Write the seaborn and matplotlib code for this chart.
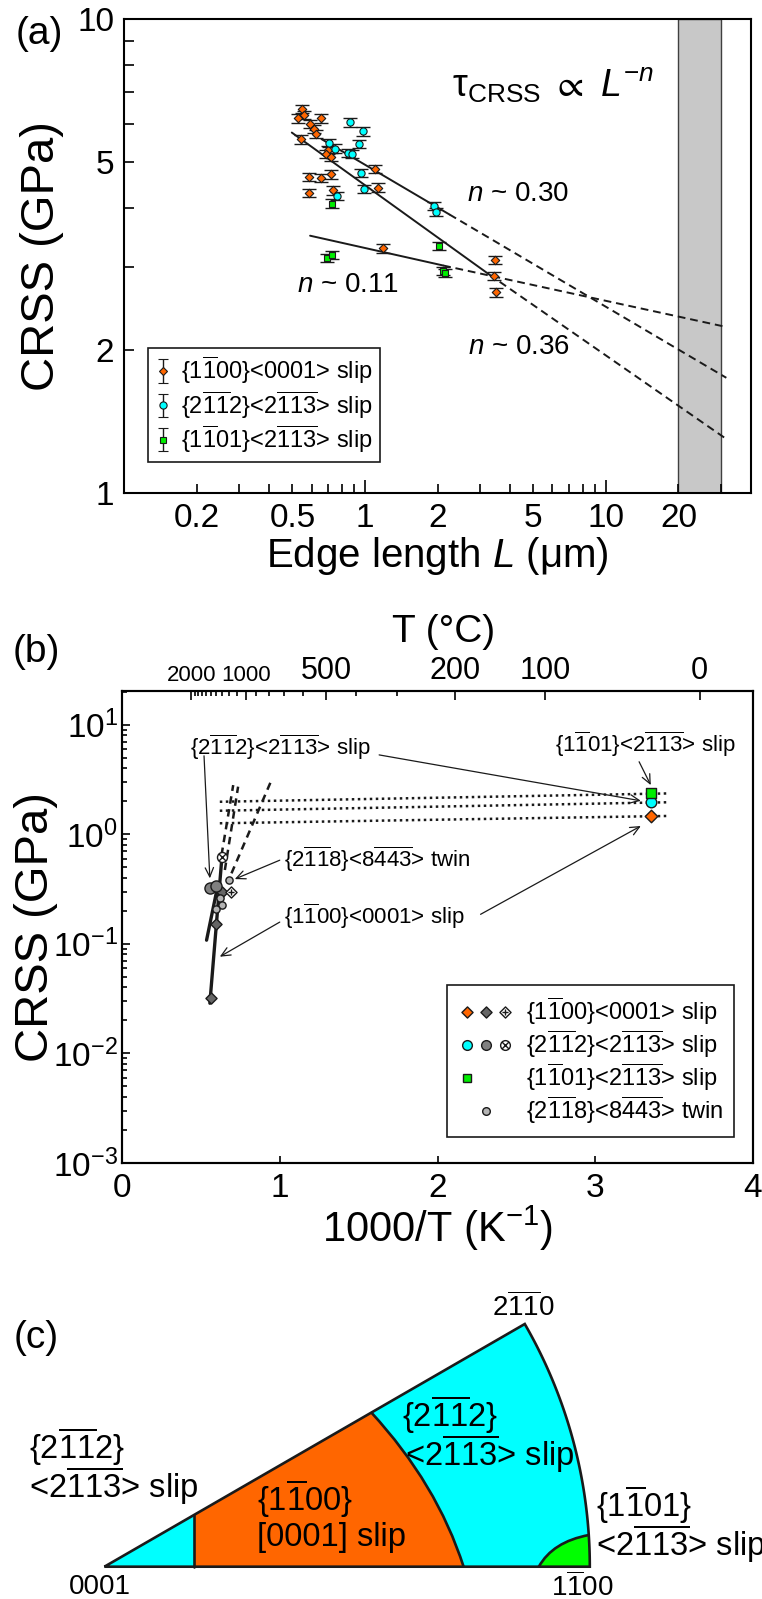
import numpy as np
import pandas as pd
import matplotlib
matplotlib.use('Agg')
import matplotlib.pyplot as plt
import seaborn as sns
from matplotlib import font_manager
from matplotlib.path import Path
from matplotlib.patches import PathPatch
from matplotlib.lines import Line2D
from matplotlib.legend_handler import HandlerTuple
from matplotlib.ticker import NullFormatter

sns.set_theme(style='ticks')
plt.rcParams['font.family'] = ['Liberation Sans', 'DejaVu Sans']
plt.rcParams['mathtext.fontset'] = 'custom'
plt.rcParams['mathtext.rm'] = 'Liberation Sans'
plt.rcParams['mathtext.it'] = 'Liberation Sans:italic'
plt.rcParams['mathtext.bf'] = 'Liberation Sans:bold'
plt.rcParams['mathtext.default'] = 'regular'
plt.rcParams['axes.linewidth'] = 1.5
for k in ['axes.edgecolor', 'xtick.color', 'ytick.color', 'text.color', 'axes.labelcolor']:
    plt.rcParams[k] = 'black'

try:
    font_manager.findfont('Liberation Sans Narrow', fallback_to_default=False)
    NARROW = 'Liberation Sans Narrow'
except Exception:
    NARROW = 'Liberation Sans'

ORANGE = '#ff6600'
CYAN = '#00ffff'
GREEN = '#00ee00'
DGRAY = '#666666'
MGRAY = '#808080'
LGRAY = '#b4b4b4'


def ob(s):
    # overlined digits, one bar per digit
    return '$' + ''.join(r'\overline{%s}' % c for c in s) + '$'


lab_m = '{1' + ob('1') + '00}<0001> slip'
lab_p2 = '{2' + ob('11') + '2}<2' + ob('113') + '> slip'
lab_p1 = '{1' + ob('1') + '01}<2' + ob('113') + '> slip'
lab_tw = '{2' + ob('11') + '8}<8' + ob('443') + '> twin'

# ---------------- (a) CRSS vs edge length ----------------
m_L = [0.549, 0.557, 0.528, 0.654, 0.590, 0.613, 0.626, 0.541, 0.704, 0.688, 0.721, 1.105,
       0.586, 0.654, 0.721, 1.13, 0.586, 0.737, 1.19, 3.47, 3.43, 3.50]
m_tau = [6.46, 6.27, 6.17, 6.17, 6.00, 5.86, 5.72, 5.57, 5.29, 5.19, 5.12, 4.82,
         4.65, 4.62, 4.70, 4.41, 4.30, 4.35, 3.28, 3.10, 2.87, 2.65]
p2_L = [0.863, 0.98, 0.942, 0.710, 0.748, 0.847, 0.881, 0.966, 0.993, 0.762, 1.94, 1.98]
p2_tau = [6.05, 5.79, 5.44, 5.48, 5.33, 5.22, 5.20, 4.73, 4.38, 4.23, 4.03, 3.91]
p1_L = [0.731, 0.697, 0.730, 2.03, 2.11, 2.15]
p1_tau = [4.08, 3.13, 3.18, 3.32, 2.94, 2.91]
err_frac = 0.02

# power-law fits: start, end of solid part, end of dashed extrapolation
fit_n = ['0.30', '0.36', '0.11']
fit_x0 = [0.66, 0.497, 0.592]
fit_y0 = [5.58, 5.76, 3.49]
fit_x1 = [2.24, 3.28, 2.11]
fit_y1 = [3.87, 2.89, 3.02]
fit_x2 = [31.6, 31.6, 31.6]
fit_y2 = [1.75, 1.30, 2.24]
n_text_x = [4.33, 4.37, 0.851]
n_text_y = [4.28, 2.03, 2.75]
band = (20, 30)

df_a = pd.concat([
    pd.DataFrame({'L': m_L, 'tau': m_tau, 'system': 'm'}),
    pd.DataFrame({'L': p2_L, 'tau': p2_tau, 'system': 'p2'}),
    pd.DataFrame({'L': p1_L, 'tau': p1_tau, 'system': 'p1'}),
])

# ---------------- (b) CRSS vs 1000/T ----------------
rt_x = [3.356, 3.356, 3.356]
rt_tau = [1.47, 1.96, 2.37]
ht_m_x = [0.563, 0.599, 0.637]
ht_m_tau = [0.0323, 0.152, 0.295]
ht_p2_x = [0.557, 0.599]
ht_p2_tau = [0.321, 0.337]
hx_m_x = [0.690]
hx_m_tau = [0.297]
hx_p2_x = [0.631]
hx_p2_tau = [0.616]
tw_x = [0.677, 0.620, 0.637, 0.599]
tw_tau = [0.382, 0.261, 0.226, 0.206]

solid_x = [[0.557, 0.631], [0.536, 0.610]]
solid_y = [[0.0287, 0.562], [0.108, 0.356]]
dash_x = [[0.631, 0.705], [0.652, 0.736], [0.694, 0.943]]
dash_y = [[0.647, 2.81], [0.472, 2.72], [0.44, 3.01]]
dot_x = [0.62, 3.468]
dot_y = [[1.98, 2.36], [1.64, 1.96], [1.26, 1.47]]

T_major = [2000, 1000, 500, 200, 100, 0]
T_minor = [1900, 1800, 1700, 1600, 1500, 1400, 1300, 1200, 1100, 900, 800, 700, 600, 400, 300]

# ---------------- figure ----------------
W, H = 762, 1599
fig = plt.figure(figsize=(W / 100, H / 100), dpi=100)


def rect(l, t, r, b):
    return [l / W, 1 - b / H, (r - l) / W, (b - t) / H]


def ftext(x, y, s, **kw):
    fig.text(x / W, 1 - y / H, s, **kw)


axA = fig.add_axes(rect(124, 19, 751, 493))
axB = fig.add_axes(rect(122, 691, 753, 1163))
axC = fig.add_axes(rect(0, 1190, 762, 1599))

# ---- panel (a)
axA.axvspan(*band, facecolor='#c8c8c8', edgecolor='#404040', lw=1.0, zorder=0)
for i in range(3):
    axA.plot([fit_x0[i], fit_x1[i]], [fit_y0[i], fit_y1[i]], color='k', lw=1.4, zorder=2)
    axA.plot([fit_x1[i], fit_x2[i]], [fit_y1[i], fit_y2[i]], color='k', lw=1.4,
             ls=(0, (4, 2.5)), zorder=2)

style_a = {'m': ('D', 4.3, ORANGE), 'p2': ('o', 5.2, CYAN), 'p1': ('s', 4.0, GREEN)}
for name, (mk, ms, col) in style_a.items():
    d = df_a[df_a['system'] == name]
    axA.errorbar(d['L'], d['tau'], yerr=err_frac * d['tau'], fmt='none', ecolor='k',
                 elinewidth=1.0, capsize=5, capthick=1.0, zorder=3)
    sns.scatterplot(data=d, x='L', y='tau', marker=mk, s=ms ** 2, color=col,
                    edgecolor='k', linewidth=0.8, ax=axA, zorder=4, legend=False)

axA.set_xscale('log')
axA.set_yscale('log')
axA.set_xlim(0.1, 40)
axA.set_ylim(1, 10)
axA.set_xlabel('')
axA.set_ylabel('')
axA.set_xticks([1, 10], ['1', '10'])
xmin_a = [0.2, 0.3, 0.4, 0.5, 0.6, 0.7, 0.8, 0.9, 2, 3, 4, 5, 6, 7, 8, 9, 20, 30]
axA.set_xticks(xmin_a, [('%g' % v) if v in (0.2, 0.5, 2, 5, 20) else '' for v in xmin_a], minor=True)
axA.set_yticks([1, 10], ['1', '10'])
ymin_a = [2, 3, 4, 5, 6, 7, 8, 9]
axA.set_yticks(ymin_a, [('%g' % v) if v in (2, 5) else '' for v in ymin_a], minor=True)
axA.tick_params(which='both', direction='in', width=1.2, labelsize=24, pad=7)
axA.tick_params(axis='x', which='major', length=9.5)
axA.tick_params(axis='x', which='minor', length=6.5)
axA.tick_params(axis='y', which='both', length=7)

for i in range(3):
    axA.text(n_text_x[i], n_text_y[i], r'$\mathit{n}$ ~ ' + fit_n[i], fontsize=20,
             ha='center', va='center')
axA.text(6.03, 7.25, r'$\tau_{\mathrm{CRSS}}\ \propto\ \mathit{L}^{-\mathit{n}}$', fontsize=27,
         ha='center', va='center')

hA = []
for name, (mk, ms, col) in style_a.items():
    hA.append(axA.errorbar([np.nan], [np.nan], yerr=[1], fmt=mk, ms=ms, mfc=col, mec='k',
                           mew=0.8, ecolor='k', elinewidth=1.0, capsize=3.5))
legA = axA.legend(hA, [lab_m, lab_p2, lab_p1], loc='lower left', bbox_to_anchor=(0.038, 0.0655),
                  borderaxespad=0, fontsize=17, handlelength=0.7, handletextpad=0.4,
                  labelspacing=0.1, borderpad=0.3, frameon=True, fancybox=False,
                  edgecolor='k', framealpha=1)
legA.get_frame().set_linewidth(1.2)

ftext(39, 34, '(a)', fontsize=28, ha='center', va='center')
ftext(42, 256, 'CRSS (GPa)', fontsize=34, rotation=90, ha='center', va='center')
ftext(437, 556, r'Edge length $\mathit{L}$ (μm)', fontsize=29, ha='center', va='center')

# ---- panel (b)
cc = Path.unit_circle()
q = 0.7071
cross_circle = Path(np.concatenate([cc.vertices, [[-q, -q], [q, q], [-q, q], [q, -q]]]),
                    np.concatenate([cc.codes, [Path.MOVETO, Path.LINETO, Path.MOVETO, Path.LINETO]]))
p = 0.55
cross_diamond = Path([[0, 1], [1, 0], [0, -1], [-1, 0], [0, 1],
                      [0, p], [0, -p], [-p, 0], [p, 0]],
                     [Path.MOVETO, Path.LINETO, Path.LINETO, Path.LINETO, Path.CLOSEPOLY,
                      Path.MOVETO, Path.LINETO, Path.MOVETO, Path.LINETO])
diamond = Path([[0, 1], [1, 0], [0, -1], [-1, 0], [0, 1]],
               [Path.MOVETO, Path.LINETO, Path.LINETO, Path.LINETO, Path.CLOSEPOLY])

for ys in dot_y:
    axB.plot(dot_x, ys, color='k', lw=1.8, ls=(0, (1, 1.4)), zorder=2)
for xs, ys in zip(dash_x, dash_y):
    axB.plot(xs, ys, color='k', lw=1.8, ls=(0, (3, 2.2)), zorder=2)
for xs, ys in zip(solid_x, solid_y):
    axB.plot(xs, ys, color='k', lw=2.4, zorder=3)

pts_b = [
    (ht_m_x, ht_m_tau, diamond, 8.0, DGRAY),
    (ht_p2_x, ht_p2_tau, 'o', 8.0, MGRAY),
    (tw_x, tw_tau, 'o', 5.2, LGRAY),
    (hx_m_x, hx_m_tau, cross_diamond, 8.0, 'white'),
    (hx_p2_x, hx_p2_tau, cross_circle, 7.2, 'white'),
    ([rt_x[0]], [rt_tau[0]], diamond, 9.0, ORANGE),
    ([rt_x[1]], [rt_tau[1]], 'o', 7.6, CYAN),
    ([rt_x[2]], [rt_tau[2]], 's', 7.8, GREEN),
]
for xs, ys, mk, ms, col in pts_b:
    sns.scatterplot(x=xs, y=ys, marker=mk, s=ms ** 2, color=col, edgecolor='k',
                    linewidth=1.0, ax=axB, zorder=5, legend=False)

axB.set_yscale('log')
axB.set_xlim(0, 4)
axB.set_ylim(1e-3, 20.3)
axB.set_xticks([0, 1, 2, 3, 4], ['0', '1', '2', '3', '4'])
axB.yaxis.set_minor_formatter(NullFormatter())
axB.tick_params(which='both', direction='in', width=1.2, labelsize=24, pad=7)
axB.tick_params(axis='y', which='both', pad=3)
axB.tick_params(axis='y', which='major', length=6)
axB.tick_params(axis='y', which='minor', length=3.5)
axB.tick_params(axis='x', which='major', length=5)

axT = axB.twiny()
axT.set_xlim(0, 4)
axT.set_xticks([1000 / (t + 273.15) for t in T_major], [str(t) for t in T_major])
axT.set_xticks([1000 / (t + 273.15) for t in T_minor], minor=True)
axT.tick_params(axis='x', which='both', direction='in', width=1.2, labelsize=22, pad=3.5)
axT.tick_params(axis='x', which='major', length=6.5)
axT.tick_params(axis='x', which='minor', length=3.5)
for lbl in axT.get_xticklabels():
    if lbl.get_text() in ('2000', '1000'):
        lbl.set_fontsize(16)
        lbl.set_family(NARROW)

arr = dict(arrowstyle='->,head_length=0.55,head_width=0.25', color='k', lw=0.9,
           shrinkA=0, shrinkB=0)
axB.text(1.0, 6.19, lab_p2, fontsize=16, ha='center', va='center')
axB.annotate('', xy=(0.557, 0.396), xytext=(0.52, 5.2), arrowprops=arr)
axB.annotate('', xy=(3.289, 2.02), xytext=(1.63, 5.3), arrowprops=arr)
axB.text(3.318, 6.69, lab_p1, fontsize=16, ha='center', va='center')
axB.annotate('', xy=(3.352, 2.81), xytext=(3.278, 4.59), arrowprops=arr)
axB.text(1.03, 0.594, lab_tw, fontsize=16, ha='left', va='center')
axB.annotate('', xy=(0.715, 0.39), xytext=(1.00, 0.58), arrowprops=arr)
axB.text(1.03, 0.177, lab_m, fontsize=16, ha='left', va='center')
axB.annotate('', xy=(0.620, 0.0763), xytext=(1.00, 0.158), arrowprops=arr)
axB.annotate('', xy=(3.289, 1.19), xytext=(2.273, 0.186), arrowprops=arr)


def mline(marker, ms, face):
    return Line2D([], [], linestyle='none', marker=marker, markersize=ms,
                  markerfacecolor=face, markeredgecolor='k', markeredgewidth=1.0)


def blank():
    return Line2D([], [], linestyle='none', marker='none')


hB = [
    (mline(diamond, 8.0, ORANGE), mline(diamond, 8.0, DGRAY), mline(cross_diamond, 8.0, 'white')),
    (mline('o', 7.0, CYAN), mline('o', 7.0, MGRAY), mline(cross_circle, 7.0, 'white')),
    (mline('s', 6.0, GREEN), blank(), blank()),
    (blank(), mline('o', 5.5, LGRAY), blank()),
]
legB = axB.legend(hB, [lab_m, lab_p2, lab_p1, lab_tw],
                  handler_map={tuple: HandlerTuple(ndivide=None, pad=0.0)},
                  loc='lower left', bbox_to_anchor=(0.515, 0.0557), borderaxespad=0,
                  fontsize=17, handlelength=2.4, handletextpad=0.5, labelspacing=0.05,
                  borderpad=0.45, frameon=True, fancybox=False, edgecolor='k', framealpha=1)
legB.get_frame().set_linewidth(1.2)

ftext(36, 652, '(b)', fontsize=28, ha='center', va='center')
ftext(444, 632, 'T (°C)', fontsize=28, ha='center', va='center')
ftext(36, 927, 'CRSS (GPa)', fontsize=34, rotation=90, ha='center', va='center')
ftext(437, 1228, r'1000/T (K$^{-1}$)', fontsize=30, ha='center', va='center')

# ---- panel (c) inverse pole figure triangle
t30 = np.tan(np.radians(30))
b1 = 0.185                     # {2-1-12} | {1-100} boundary on the basal side
b2_top, b2_bot, b2_c = (0.55, 0.55 * t30), (0.74, 0.0), (0.685, 0.171)
b3_bot, b3_c = (0.895, 0.0), (0.9235, 0.0513)
b3_ang = 3.74

arc = np.radians(np.linspace(0, 30, 80))
sector = np.vstack([[0, 0], np.column_stack([np.cos(arc), np.sin(arc)]), [0, 0]])
axC.add_patch(PathPatch(Path(sector), facecolor=CYAN, edgecolor='none', zorder=1))

orange_path = Path([(b1, 0), b2_bot, b2_c, b2_top, (b1, b1 * t30), (b1, 0)],
                   [Path.MOVETO, Path.LINETO, Path.CURVE3, Path.CURVE3, Path.LINETO, Path.CLOSEPOLY])
axC.add_patch(PathPatch(orange_path, facecolor=ORANGE, edgecolor='none', zorder=2))

ga = np.radians(np.linspace(0, b3_ang, 20))
g_arc = np.column_stack([np.cos(ga), np.sin(ga)])
g_verts = [b3_bot, (1, 0)] + [tuple(v) for v in g_arc[1:]] + [b3_c, b3_bot, b3_bot]
g_codes = [Path.MOVETO, Path.LINETO] + [Path.LINETO] * (len(g_arc) - 1) + [Path.CURVE3, Path.CURVE3, Path.CLOSEPOLY]
axC.add_patch(PathPatch(Path(g_verts, g_codes), facecolor='#00ff00', edgecolor='none', zorder=2))

lw_c = 1.9
axC.add_patch(PathPatch(Path(sector), facecolor='none', edgecolor='k', lw=lw_c, zorder=4,
                        joinstyle='miter'))
axC.plot([b1, b1], [0, b1 * t30], color='k', lw=lw_c, zorder=4)
axC.add_patch(PathPatch(Path([b2_top, b2_c, b2_bot], [Path.MOVETO, Path.CURVE3, Path.CURVE3]),
                        facecolor='none', edgecolor='k', lw=lw_c, zorder=4))
axC.add_patch(PathPatch(Path([b3_bot, b3_c, tuple(g_arc[-1])], [Path.MOVETO, Path.CURVE3, Path.CURVE3]),
                        facecolor='none', edgecolor='k', lw=lw_c, zorder=4))

axC.text(0.8624, 0.5356, '2' + ob('11') + '0', fontsize=20, ha='center', va='center')
axC.text(-0.0101, -0.0412, '0001', fontsize=20, ha='center', va='center')
axC.text(0.985, -0.0412, '1' + ob('1') + '00', fontsize=20, ha='center', va='center')
fs_c = 23.5
axC.text(-0.1553, 0.2464, '{2' + ob('11') + '2}', fontsize=fs_c, ha='left', va='center')
axC.text(-0.1553, 0.1664, '<2' + ob('113') + '> slip', fontsize=fs_c, ha='left', va='center')
axC.text(0.3144, 0.1396, '{1' + ob('1') + '00}', fontsize=fs_c, ha='left', va='center', zorder=5)
axC.text(0.3144, 0.0596, '[0001] slip', fontsize=fs_c, ha='left', va='center', zorder=5)
axC.text(0.6131, 0.3116, '{2' + ob('11') + '2}', fontsize=fs_c, ha='left', va='center', zorder=5)
axC.text(0.6193, 0.2316, '<2' + ob('113') + '> slip', fontsize=fs_c, ha='left', va='center', zorder=5)
axC.text(1.0128, 0.1262, '{1' + ob('1') + '01}', fontsize=fs_c, ha='left', va='center')
axC.text(1.0128, 0.0462, '<2' + ob('113') + '> slip', fontsize=fs_c, ha='left', va='center')

axC.set_xlim(-104.4 / 485.4, (762 - 104.4) / 485.4)
axC.set_ylim(-(1599 - 1566.7) / 485.4, (1566.7 - 1190) / 485.4)
axC.axis('off')
ftext(36, 1338, '(c)', fontsize=28, ha='center', va='center')

fig.savefig('out.png', dpi=100)
